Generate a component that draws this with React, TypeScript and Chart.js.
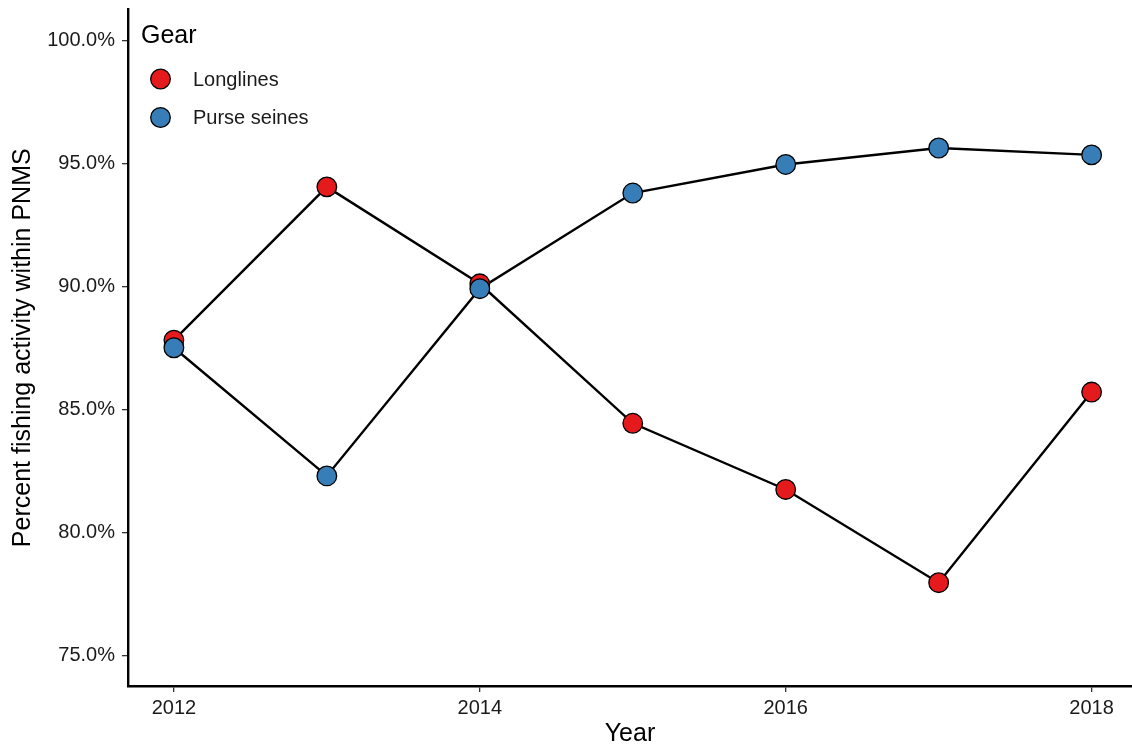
import React, { useEffect, useRef } from "react";
import { Chart, registerables } from "chart.js";

Chart.register(...registerables);

const years = [2012, 2013, 2014, 2015, 2016, 2017, 2018];
const longlines = [87.81, 94.04, 90.1, 84.43, 81.74, 77.95, 85.7];
const purseSeines = [87.5, 82.29, 89.9, 93.79, 94.95, 95.62, 95.34];
const seriesNames = ["Longlines", "Purse seines"];
const seriesColors = ["#E41A1C", "#377EB8"];
const xTicks = [2012, 2014, 2016, 2018];
const yTicks = [75, 80, 85, 90, 95, 100];
const legendTitle = "Gear";
const xTitle = "Year";
const yTitle = "Percent fishing activity within PNMS";

const FONT = "'Liberation Sans', Arial, Helvetica, sans-serif";

const legendPlugin = {
  id: "ggLegend",
  afterDraw(chart: any) {
    const ctx = chart.ctx;
    ctx.save();
    ctx.fillStyle = "#000";
    ctx.font = `25px ${FONT}`;
    ctx.textBaseline = "alphabetic";
    ctx.textAlign = "left";
    ctx.fillText(legendTitle, 141, 43);
    const ys = [79, 117.5];
    seriesNames.forEach((name, i) => {
      ctx.beginPath();
      ctx.arc(160.5, ys[i], 9.8, 0, Math.PI * 2);
      ctx.fillStyle = seriesColors[i];
      ctx.fill();
      ctx.lineWidth = 1.3;
      ctx.strokeStyle = "#000";
      ctx.stroke();
      ctx.fillStyle = "#1a1a1a";
      ctx.font = `20px ${FONT}`;
      ctx.textBaseline = "middle";
      ctx.fillText(name, 193, ys[i] + 1);
    });
    ctx.restore();
  },
};

export default function App() {
  const ref = useRef<HTMLCanvasElement>(null);
  useEffect(() => {
    const toPts = (vals: number[]) => years.map((x, i) => ({ x, y: vals[i] }));
    const lineBase = {
      borderColor: "#000",
      borderWidth: 2.4,
      pointRadius: 0,
      fill: false,
      tension: 0,
    };
    const pointBase = {
      showLine: false,
      pointRadius: 9.8,
      pointBorderWidth: 1.3,
      pointBorderColor: "#000",
      borderColor: "#000",
    };
    const chart = new Chart(ref.current!, {
      type: "line",
      data: {
        datasets: [
          { ...pointBase, label: seriesNames[1], data: toPts(purseSeines), pointBackgroundColor: seriesColors[1], backgroundColor: seriesColors[1], order: 0 },
          { ...pointBase, label: seriesNames[0], data: toPts(longlines), pointBackgroundColor: seriesColors[0], backgroundColor: seriesColors[0], order: 1 },
          { ...lineBase, label: seriesNames[1] + " line", data: toPts(purseSeines), order: 2 },
          { ...lineBase, label: seriesNames[0] + " line", data: toPts(longlines), order: 3 },
        ],
      },
      options: {
        animation: false,
        responsive: false,
        maintainAspectRatio: false,
        layout: { autoPadding: false, padding: { top: 9.5, left: 0, right: 0, bottom: 0 } },
        plugins: { legend: { display: false }, tooltip: { enabled: false } },
        scales: {
          x: {
            type: "linear",
            min: 2011.7,
            max: 2018.264,
            afterBuildTicks: (s: any) => {
              s.ticks = xTicks.map((v) => ({ value: v }));
            },
            afterFit: (s: any) => {
              s.height = 64;
              s.paddingLeft = 0;
              s.paddingRight = 0;
            },
            ticks: {
              callback: (v: any) => String(v),
              color: "#1a1a1a",
              font: { size: 20, family: FONT },
              padding: 4,
              maxRotation: 0,
              autoSkip: false,
            },
            grid: { display: true, drawOnChartArea: false, drawTicks: true, tickLength: 6, color: "#333", lineWidth: 1.3 },
            border: { display: true, color: "#000", width: 2.4 },
            title: { display: true, text: xTitle, color: "#000", font: { size: 25, family: FONT }, padding: { top: 0, bottom: 1 } },
          },
          y: {
            type: "linear",
            min: 73.75,
            max: 101.25,
            afterBuildTicks: (s: any) => {
              s.ticks = yTicks.map((v) => ({ value: v }));
            },
            afterFit: (s: any) => {
              s.width = 128;
              s.paddingTop = 0;
              s.paddingBottom = 0;
            },
            ticks: {
              callback: (v: any) => Number(v).toFixed(1) + "%",
              color: "#1a1a1a",
              font: { size: 20, family: FONT },
              padding: 7,
              autoSkip: false,
            },
            grid: { display: true, drawOnChartArea: false, drawTicks: true, tickLength: 6, color: "#333", lineWidth: 1.3 },
            border: { display: true, color: "#000", width: 2.4 },
            title: { display: true, text: yTitle, color: "#000", font: { size: 25, family: FONT }, padding: { top: 8, bottom: 0 } },
          },
        },
      },
      plugins: [legendPlugin],
    });
    return () => chart.destroy();
  }, []);
  return (
    <div style={{ position: "absolute", left: 0, top: 0, width: 1132, height: 750, background: "#fff" }}>
      <canvas ref={ref} width={1132} height={750} style={{ display: "block", width: 1132, height: 750 }} />
    </div>
  );
}
